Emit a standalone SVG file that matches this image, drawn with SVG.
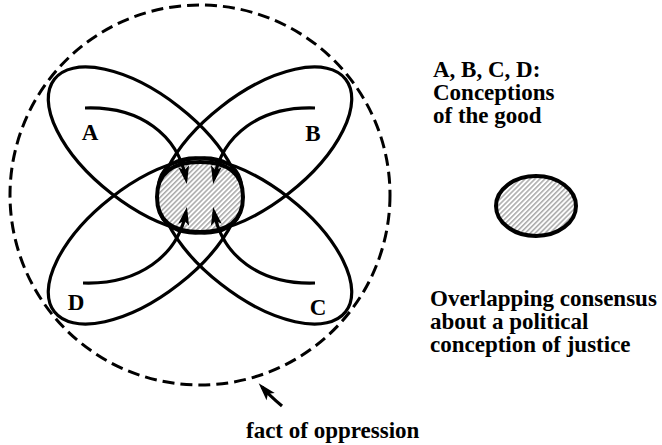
<svg xmlns="http://www.w3.org/2000/svg" width="662" height="445" viewBox="0 0 662 445">
<style>
.petal{fill:none;stroke:#000;stroke-width:3.2}
.arc{fill:none;stroke:#000;stroke-width:3.2;marker-end:url(#ah)}
.core{fill:url(#hatch);stroke:#000;stroke-width:4}
text{font-family:'Liberation Serif','DejaVu Serif','Times New Roman',serif;font-weight:bold;font-size:23px;fill:#000}
</style>
<defs>
<pattern id="hatch" width="3.5" height="3.5" patternUnits="userSpaceOnUse" patternTransform="rotate(45)">
<rect width="3.5" height="3.5" fill="#fff"/>
<line x1="0.8" y1="0" x2="0.8" y2="3.5" stroke="#9a9a9a" stroke-width="1.3"/>
</pattern>
<marker id="ah" markerUnits="userSpaceOnUse" markerWidth="24" markerHeight="16" refX="0" refY="0" viewBox="-14 -8 24 16" orient="auto">
<path d="M-13,-5.5 L5,0 L-13,5.5 L-9,0 Z" fill="#000"/>
</marker>
<ellipse id="petalA" cx="145" cy="150" rx="115" ry="55" transform="rotate(38 145 150)"/>
</defs>
<g id="oppression-circle">
<circle cx="200" cy="195" r="190" fill="none" stroke="#000" stroke-width="3" stroke-dasharray="12,6"/>
</g>
<g id="petal-A"><use href="#petalA" class="petal"/></g>
<g id="petal-B"><use href="#petalA" class="petal" transform="matrix(-1,0,0,1,400,0)"/></g>
<g id="petal-D"><use href="#petalA" class="petal" transform="matrix(1,0,0,-1,0,391)"/></g>
<g id="petal-C"><use href="#petalA" class="petal" transform="matrix(-1,0,0,-1,400,391)"/></g>
<g id="consensus">
<path class="core" d="M200,162 C229,162 243,174 243,197 C243,220 229,232 200,232 C171,232 157,220 157,197 C157,174 171,162 200,162 Z"/>
</g>
<g id="connectors">
<path class="arc" d="M85,108 C140,106 178,135 186,179"/>
<path class="arc" d="M315,108 C260,106 222,135 214,179"/>
<path class="arc" d="M83,283 C138,285 178,256 186,212"/>
<path class="arc" d="M315,283 C260,285 222,256 214,212"/>
<path class="arc" d="M282,406 Q270,396 262,387"/>
</g>
<g id="label-A"><text x="90" y="140" text-anchor="middle">A</text></g>
<g id="label-B"><text x="313" y="141" text-anchor="middle">B</text></g>
<g id="label-D"><text x="76" y="310" text-anchor="middle">D</text></g>
<g id="label-C"><text x="318" y="315" text-anchor="middle">C</text></g>
<g id="legend-conceptions">
<text x="433" y="77">A, B, C, D:</text>
<text x="433" y="100">Conceptions</text>
<text x="433" y="123">of the good</text>
</g>
<g id="legend-consensus">
<ellipse cx="536" cy="206" rx="40" ry="30" class="core"/>
<text x="430" y="306">Overlapping consensus</text>
<text x="430" y="329">about a political</text>
<text x="430" y="352">conception of justice</text>
</g>
<g id="label-oppression">
<text x="246" y="438">fact of oppression</text>
</g>
</svg>
